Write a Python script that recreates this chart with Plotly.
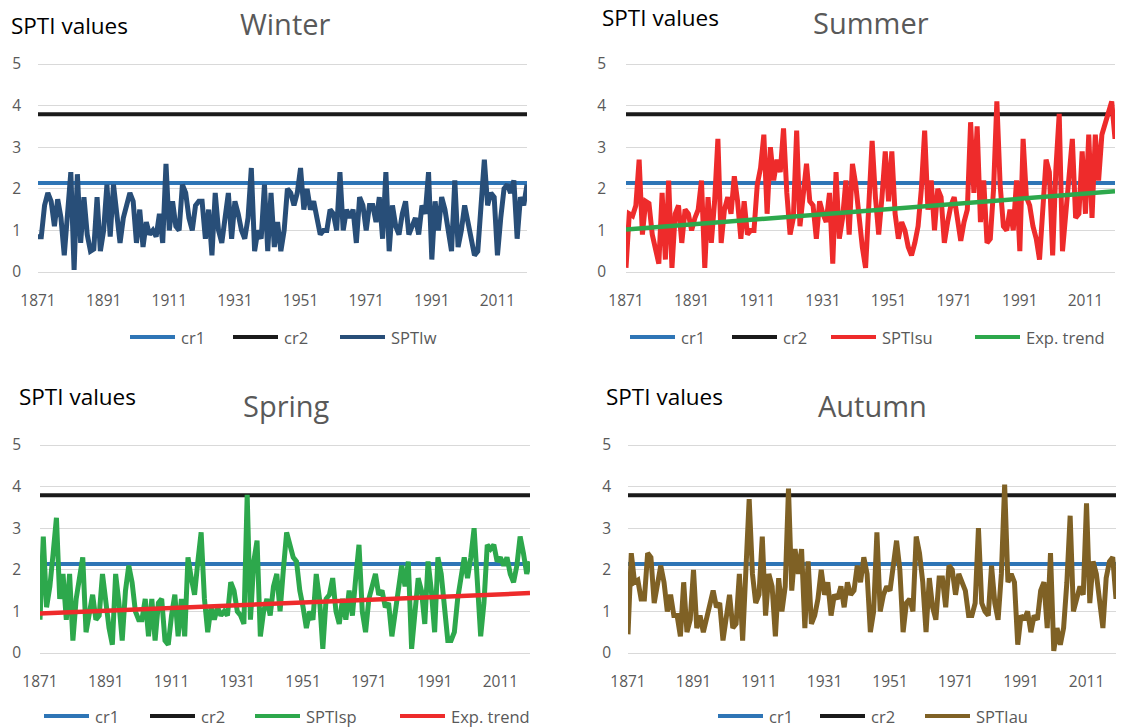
import plotly.graph_objects as go

W, H = 1127, 728

years = list(range(1871, 2021))
tick_years = [1871, 1891, 1911, 1931, 1951, 1971, 1991, 2011]
y_ticks = [0, 1, 2, 3, 4, 5]

# Critical thresholds
cr1 = 2.14
cr2 = 3.79

spti_winter = [
    0.85, 0.85, 1.6, 1.9, 1.7, 1.1, 1.75, 1.3, 0.4, 1.5,
    2.4, 0.05, 2.35, 0.7, 1.8, 0.9, 0.5, 0.55, 1.8, 0.5,
    1.0, 2.1, 0.85, 2.1, 1.5, 0.7, 1.3, 1.6, 1.9, 1.7,
    0.7, 1.5, 0.6, 1.2, 0.9, 1.0, 0.85, 1.4, 0.7, 2.6,
    1.0, 1.7, 1.1, 1.0, 2.1, 1.9, 1.3, 1.0, 1.6, 1.7,
    1.7, 0.8, 1.5, 0.4, 1.9, 1.0, 0.7, 1.3, 1.9, 0.8,
    1.7, 1.4, 1.0, 0.8, 1.3, 2.5, 0.5, 1.0, 0.8, 2.1,
    0.5, 1.9, 0.6, 1.2, 0.5, 1.0, 2.0, 1.9, 1.6, 1.9,
    2.5, 1.5, 2.0, 1.5, 1.7, 1.3, 0.9, 1.0, 1.0, 1.5,
    1.4, 1.0, 2.4, 1.0, 1.5, 1.3, 1.5, 0.7, 1.8, 1.6,
    1.0, 1.6, 1.6, 1.2, 1.8, 0.8, 2.4, 0.5, 1.6, 1.1,
    0.9, 1.4, 1.7, 0.9, 1.1, 1.3, 0.9, 1.6, 1.4, 2.4,
    0.3, 1.7, 1.0, 1.8, 1.5, 1.0, 0.5, 2.2, 0.6, 1.0,
    1.6, 1.2, 0.8, 0.4, 0.5, 1.6, 2.7, 1.6, 1.9, 1.8,
    0.4, 1.3, 2.0, 2.1, 1.9, 2.2, 0.8, 1.8, 1.6, 2.1,
]

spti_summer = [
    0.1, 1.4, 1.35, 1.6, 2.7, 0.9, 1.7, 1.65, 0.9, 0.6,
    0.2, 1.9, 0.3, 2.2, 0.1, 1.4, 1.6, 0.7, 1.5, 1.4,
    1.0, 1.3, 1.5, 2.2, 0.1, 1.8, 0.7, 1.7, 3.2, 0.7,
    1.5, 1.8, 1.4, 2.3, 1.7, 0.8, 1.7, 0.9, 1.0, 1.0,
    2.1, 2.5, 3.3, 1.4, 3.0, 2.2, 2.7, 2.4, 3.45, 1.9,
    0.9, 1.3, 3.4, 1.1, 1.9, 2.6, 1.7, 1.6, 0.8, 1.7,
    1.4, 1.2, 1.9, 0.2, 2.4, 0.8, 1.3, 2.2, 0.9, 2.6,
    2.1, 1.2, 0.6, 0.1, 1.6, 3.15, 1.8, 0.9, 1.8, 2.9,
    1.7, 2.9, 1.4, 0.8, 1.2, 1.0, 0.6, 0.4, 0.7, 1.1,
    2.0, 3.4, 1.5, 2.2, 1.0, 2.0, 1.8, 0.7, 1.2, 1.6,
    1.8, 1.2, 0.75, 1.2, 1.5, 3.6, 1.9, 3.5, 1.2, 2.2,
    0.7, 0.8, 2.0, 4.1, 2.1, 1.1, 1.0, 1.5, 1.0, 2.2,
    0.5, 3.2, 1.8, 1.6, 1.1, 0.8, 0.3, 1.5, 2.7, 2.4,
    0.4, 2.5, 3.8, 0.5, 1.5, 2.2, 3.2, 1.3, 1.4, 2.9,
    1.4, 3.3, 1.3, 3.3, 2.2, 3.3, 3.6, 3.9, 4.1, 3.2,
]

spti_spring = [
    0.8, 2.8, 1.1, 1.6, 2.4, 3.25, 1.3, 1.9, 0.8, 1.9,
    0.3, 1.3, 1.8, 2.3, 0.5, 1.0, 1.4, 0.8, 0.9, 1.9,
    1.1, 0.6, 0.2, 1.9, 1.2, 0.3, 1.5, 2.1, 1.7, 1.0,
    0.8, 0.8, 1.3, 0.4, 1.3, 0.3, 1.2, 1.3, 0.3, 0.2,
    0.9, 1.4, 0.4, 1.3, 0.4, 2.3, 1.8, 1.4, 2.2, 2.9,
    1.3, 0.5, 1.1, 0.8, 1.1, 0.9, 1.0, 0.9, 1.7, 1.5,
    1.0, 0.9, 0.7, 3.8, 0.8, 2.2, 2.7, 0.4, 1.0, 1.3,
    0.9, 1.6, 1.9, 1.0, 2.0, 2.9, 2.6, 2.3, 2.2, 1.5,
    1.1, 0.6, 1.0, 0.8, 1.9, 1.3, 0.1, 1.3, 1.4, 1.8,
    1.0, 0.7, 1.3, 0.8, 1.5, 0.9, 1.8, 2.6, 1.0, 0.5,
    1.3, 1.6, 1.9, 1.4, 1.5, 1.1, 1.2, 0.4, 1.0, 1.5,
    2.1, 1.6, 2.2, 0.1, 1.0, 1.8, 1.5, 0.7, 2.2, 1.5,
    0.5, 2.3, 1.9, 1.2, 0.3, 0.3, 0.5, 1.3, 1.8, 2.3,
    1.8, 2.3, 3.0, 1.6, 0.4, 1.2, 2.6, 2.5, 2.6, 2.2,
    2.3, 2.1, 2.3, 1.9, 1.7, 2.1, 2.8, 2.4, 1.9, 2.2,
]

spti_autumn = [
    0.45, 2.4, 1.7, 1.75, 1.3, 1.3, 2.4, 2.3, 1.2, 1.7,
    2.1, 1.7, 1.0, 1.4, 0.9, 0.9, 0.4, 1.7, 0.5, 0.8,
    2.0, 0.6, 0.9, 0.5, 0.8, 1.2, 1.5, 1.1, 1.2, 0.3,
    0.8, 1.4, 0.6, 0.7, 1.9, 0.3, 2.0, 3.7, 1.9, 1.2,
    1.4, 2.8, 0.9, 1.9, 1.6, 0.4, 1.8, 1.0, 1.6, 3.95,
    1.5, 2.5, 1.9, 2.5, 0.6, 2.2, 0.7, 0.9, 1.3, 2.0,
    1.4, 1.7, 0.9, 1.4, 1.3, 1.6, 1.1, 1.7, 1.4, 1.5,
    2.1, 1.7, 2.3, 1.9, 0.5, 1.0, 2.9, 1.0, 1.4, 1.6,
    1.5, 2.2, 2.7, 2.0, 0.5, 1.2, 1.3, 1.0, 2.8, 2.4,
    1.7, 0.5, 1.8, 1.1, 0.8, 1.8, 1.8, 1.1, 2.1, 2.0,
    1.4, 1.9, 1.7, 1.5, 0.9, 0.9, 1.2, 3.0, 1.2, 1.0,
    0.9, 2.1, 1.2, 0.8, 1.9, 4.05, 1.7, 1.9, 1.7, 0.2,
    0.9, 0.8, 1.0, 0.5, 0.9, 0.8, 1.5, 1.7, 0.6, 2.4,
    0.05, 0.6, 0.2, 0.6, 1.7, 3.3, 1.0, 1.3, 1.6, 1.4,
    3.6, 1.2, 2.2, 1.9, 1.3, 0.6, 1.8, 2.2, 2.3, 1.3,
]

# Exponential trend lines: values at the first and last year
trend_years = [1871, 2020]
trend_summer = [1.02, 1.94]
trend_spring = [0.95, 1.44]

C_CR1 = "#2E75B6"
C_CR2 = "#1A1A1A"
C_WINTER = "#284E78"
C_RED = "#EE2B2B"
C_GREEN = "#2DA84C"
C_AUTUMN = "#7F6125"
GRID = "#D9D9D9"
TXT = "#595959"
FONT = "Open Sans"


def px(x):
    return x / W


def py(y):
    return 1 - y / H


# plot-area geometry in pixels (left, right, y of value 0, y of value 5)
panels = [
    dict(name="Winter", left=38, right=527, y0=272, y5=64, series=spti_winter,
         color=C_WINTER, label="SPTIw", trend=None, trend_color=None,
         title_x=285, title_y=23, ylab_x=9, ylab_y=26, tick_standoff=16,
         leg_y=337, leg_x=[130, 233, 340, None]),
    dict(name="Summer", left=626, right=1115, y0=272, y5=64, series=spti_summer,
         color=C_RED, label="SPTIsu", trend=trend_summer, trend_color=C_GREEN,
         title_x=871, title_y=22, ylab_x=600, ylab_y=17, tick_standoff=19,
         leg_y=337, leg_x=[630, 732, 831, 975]),
    dict(name="Spring", left=40, right=530, y0=653, y5=445, series=spti_spring,
         color=C_GREEN, label="SPTIsp", trend=trend_spring, trend_color=C_RED,
         title_x=286, title_y=405, ylab_x=17, ylab_y=397, tick_standoff=18,
         leg_y=716, leg_x=[44, 150, 255, 400]),
    dict(name="Autumn", left=628, right=1116, y0=653, y5=445, series=spti_autumn,
         color=C_AUTUMN, label="SPTIau", trend=None, trend_color=None,
         title_x=872, title_y=405, ylab_x=604, ylab_y=397, tick_standoff=16,
         leg_y=716, leg_x=[718, 820, 925, None]),
]

fig = go.Figure()
shapes = []
annotations = []
PAD = 0.1  # extra value room above 5 and below 0 so the lines are not clipped

for k, p in enumerate(panels, start=1):
    xa = "x" if k == 1 else f"x{k}"
    ya = "y" if k == 1 else f"y{k}"
    unit = (p["y0"] - p["y5"]) / 5.0
    bottom = p["y0"] + PAD * unit
    top = p["y5"] - PAD * unit

    fig.add_trace(go.Scatter(x=[years[0], years[-1]], y=[cr1, cr1], mode="lines",
                             line=dict(color=C_CR1, width=4), name="cr1",
                             xaxis=xa, yaxis=ya, showlegend=False))
    fig.add_trace(go.Scatter(x=[years[0], years[-1]], y=[cr2, cr2], mode="lines",
                             line=dict(color=C_CR2, width=4), name="cr2",
                             xaxis=xa, yaxis=ya, showlegend=False))
    fig.add_trace(go.Scatter(x=years, y=p["series"], mode="lines",
                             line=dict(color=p["color"], width=5), name=p["label"],
                             xaxis=xa, yaxis=ya, showlegend=False))
    if p["trend"] is not None:
        fig.add_trace(go.Scatter(x=trend_years, y=p["trend"], mode="lines",
                                 line=dict(color=p["trend_color"], width=4.5),
                                 name="Exp. trend", xaxis=xa, yaxis=ya,
                                 showlegend=False))

    xkey = "xaxis" if k == 1 else f"xaxis{k}"
    ykey = "yaxis" if k == 1 else f"yaxis{k}"
    fig.layout[xkey] = dict(
        domain=[px(p["left"]), px(p["right"])], range=[years[0], years[-1]],
        anchor=ya, tickvals=tick_years, showgrid=False, zeroline=False,
        showline=False, ticks="", ticklabelstandoff=13, automargin=False,
        tickfont=dict(family=FONT, size=15.5, color=TXT), fixedrange=True)
    fig.layout[ykey] = dict(
        domain=[py(bottom), py(top)], range=[-PAD, 5 + PAD], anchor=xa,
        tickvals=y_ticks, showgrid=True, gridcolor=GRID, gridwidth=1.2,
        zeroline=False, showline=False, ticks="", automargin=False,
        ticklabelstandoff=p["tick_standoff"],
        tickfont=dict(family=FONT, size=15.5, color=TXT), fixedrange=True)

    annotations.append(dict(text=p["name"], x=px(p["title_x"]), y=py(p["title_y"]),
                            xref="paper", yref="paper", xanchor="center",
                            yanchor="middle", showarrow=False,
                            font=dict(family=FONT, size=29, color=TXT)))
    annotations.append(dict(text="SPTI values", x=px(p["ylab_x"]), y=py(p["ylab_y"]),
                            xref="paper", yref="paper", xanchor="left",
                            yanchor="middle", showarrow=False,
                            font=dict(family=FONT, size=22.5, color="#000000")))

    # legend row below the plot
    entries = [("cr1", C_CR1), ("cr2", C_CR2), (p["label"], p["color"])]
    if p["trend"] is not None:
        entries.append(("Exp. trend", p["trend_color"]))
    for (label, color), x0 in zip(entries, p["leg_x"]):
        shapes.append(dict(type="line", xref="paper", yref="paper",
                           x0=px(x0), x1=px(x0 + 45), y0=py(p["leg_y"]),
                           y1=py(p["leg_y"]), line=dict(color=color, width=4)))
        annotations.append(dict(text=label, x=px(x0 + 50), y=py(p["leg_y"]),
                                xref="paper", yref="paper", xanchor="left",
                                yanchor="middle", showarrow=False, borderpad=0,
                                font=dict(family=FONT, size=16.5, color=TXT)))

fig.update_layout(
    width=W, height=H, margin=dict(l=0, r=0, t=0, b=0, autoexpand=False),
    paper_bgcolor="white", plot_bgcolor="white",
    shapes=shapes, annotations=annotations, showlegend=False,
)

fig.write_html("out.html", include_plotlyjs=True, full_html=True,
               config=dict(displayModeBar=False))
